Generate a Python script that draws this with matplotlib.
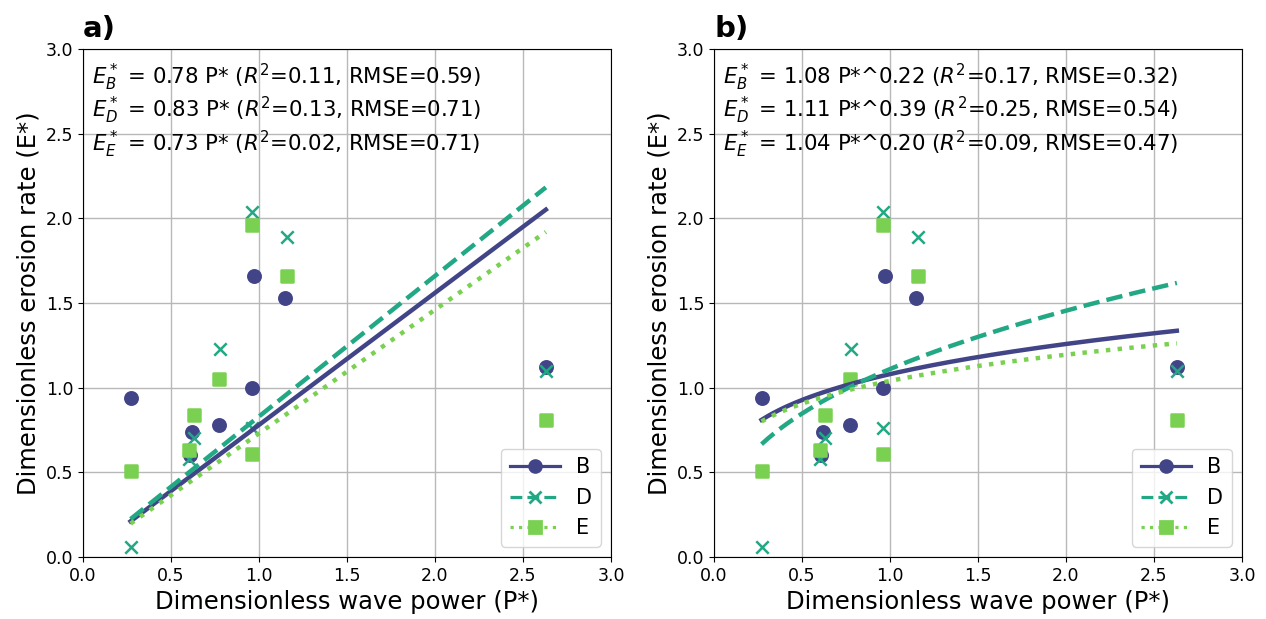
import numpy as np
import matplotlib.pyplot as plt
from matplotlib.lines import Line2D

# site data (dimensionless wave power P*, dimensionless erosion rate E*)
x_B = [0.27, 0.61, 0.62, 0.77, 0.96, 0.97, 1.15, 2.63]
y_B = [0.94, 0.60, 0.74, 0.78, 1.00, 1.66, 1.53, 1.12]
x_D = [0.27, 0.60, 0.63, 0.78, 0.96, 0.96, 1.16, 2.63]
y_D = [0.06, 0.58, 0.70, 1.23, 0.76, 2.04, 1.89, 1.10]
x_E = [0.27, 0.60, 0.63, 0.77, 0.96, 0.96, 1.16, 2.63]
y_E = [0.51, 0.63, 0.84, 1.05, 0.61, 1.96, 1.66, 0.81]

sites = ['B', 'D', 'E']
# linear fits E* = a P*
lin_a = [0.78, 0.83, 0.73]
lin_r2 = [0.11, 0.13, 0.02]
lin_rmse = [0.59, 0.71, 0.71]
# power fits E* = a P*^b
pow_a = [1.08, 1.11, 1.04]
pow_b = [0.22, 0.39, 0.20]
pow_r2 = [0.17, 0.25, 0.09]
pow_rmse = [0.32, 0.54, 0.47]

colors = ['#414487', '#22a884', '#7ad151']
markers = ['o', 'x', 's']
styles = ['-', '--', ':']
xs = [x_B, x_D, x_E]
ys = [y_B, y_D, y_E]

fig = plt.figure(figsize=(12.66, 6.19), dpi=100)
ax1 = fig.add_axes([0.0656, 0.1002, 0.4170, 0.8206])
ax2 = fig.add_axes([0.5640, 0.1002, 0.4170, 0.8206])

for ax, panel in [(ax1, 'a)'), (ax2, 'b)')]:
    for i in range(3):
        ax.scatter(xs[i], ys[i], color=colors[i], marker=markers[i], s=80,
                   linewidths=1.8, zorder=2)
        xx = np.linspace(min(xs[i]), max(xs[i]), 200)
        if panel == 'a)':
            yy = lin_a[i] * xx
        else:
            yy = pow_a[i] * xx ** pow_b[i]
        ax.plot(xx, yy, color=colors[i], linestyle=styles[i], lw=3.2, zorder=3)
    ax.set_xlim(0, 3)
    ax.set_ylim(0, 3)
    ax.set_xticks(np.arange(0, 3.01, 0.5))
    ax.set_yticks(np.arange(0, 3.01, 0.5))
    ax.tick_params(labelsize=12.5)
    ax.grid(True, color='#b8b8b8', lw=1, zorder=0)
    ax.set_axisbelow(True)
    ax.set_xlabel('Dimensionless wave power (P*)', fontsize=17.5)
    ax.set_ylabel('Dimensionless erosion rate (E*)', fontsize=17.5)
    ax.text(0.0, 1.012, panel, transform=ax.transAxes, fontsize=21,
            fontweight='bold', ha='left', va='bottom')
    handles = [Line2D([0], [0], color=colors[i], linestyle=styles[i], lw=2.3,
                      marker=markers[i], markersize=8.5, markeredgewidth=2)
               for i in range(3)]
    ax.legend(handles, sites, loc='lower right', fontsize=15, numpoints=1,
              handlelength=2.4, labelspacing=0.5)

for i in range(3):
    t1 = '$E_%s^*$ = %.2f P* ($R^2$=%.2f, RMSE=%.2f)' % (sites[i], lin_a[i], lin_r2[i], lin_rmse[i])
    t2 = '$E_%s^*$ = %.2f P*^%.2f ($R^2$=%.2f, RMSE=%.2f)' % (sites[i], pow_a[i], pow_b[i], pow_r2[i], pow_rmse[i])
    ax1.text(0.017, 0.945 - i * 0.066, t1, transform=ax1.transAxes, fontsize=15.3, va='center')
    ax2.text(0.017, 0.945 - i * 0.066, t2, transform=ax2.transAxes, fontsize=15.3, va='center')

fig.savefig('out.png', dpi=100)
